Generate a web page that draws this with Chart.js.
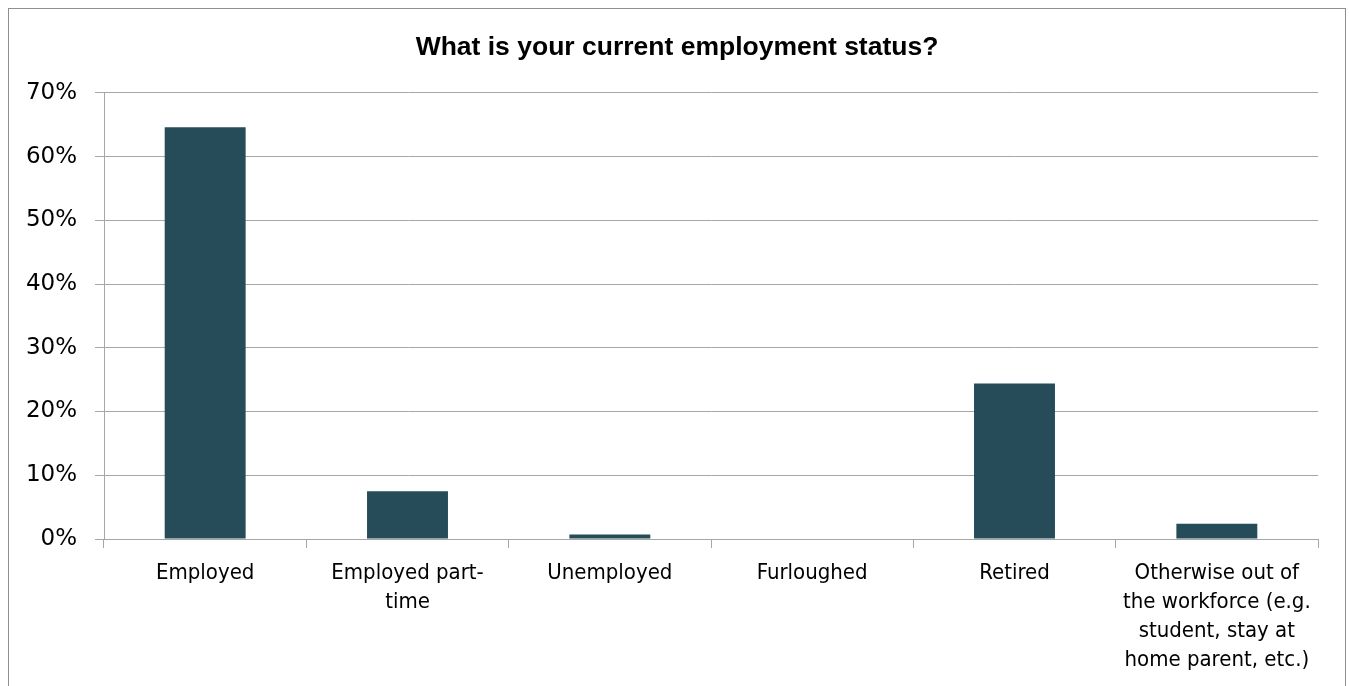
<!DOCTYPE html>
<html>
<head>
<meta charset="utf-8">
<script src="https://cdn.jsdelivr.net/npm/chart.js@4"></script>
<style>
  body { margin: 0; background: #fff; overflow: hidden; }
  #box {
    position: absolute; left: 8px; top: 8px;
    width: 1338px; height: 700px;
    border: 1px solid #8f8f8f; box-sizing: border-box;
  }
  #chart { display: block; }
</style>
</head>
<body>
<div id="box"><canvas id="chart" width="1336" height="698"></canvas></div>
<script>
// survey answers (share of respondents, %)
const categories = [
  'Employed',
  ['Employed part-', 'time'],
  'Unemployed',
  'Furloughed',
  'Retired',
  ['Otherwise out of', 'the workforce (e.g.', 'student, stay at', 'home parent, etc.)']
];
const shares = [64.6, 7.5, 0.7, 0, 24.4, 2.4];
const yTicks = [0, 10, 20, 30, 40, 50, 60, 70];

const ctx = document.getElementById('chart').getContext('2d');
new Chart(ctx, {
  type: 'bar',
  data: {
    labels: categories,
    datasets: [{
      data: shares,
      backgroundColor: '#264c59',
      borderWidth: 0,
      barPercentage: 0.4,
      categoryPercentage: 1
    }]
  },
  options: {
    responsive: false,
    animation: false,
    layout: { padding: 0 },
    plugins: {
      legend: { display: false },
      tooltip: { enabled: false },
      title: {
        display: true,
        text: 'What is your current employment status?',
        color: '#000',
        font: { family: 'Liberation Sans', size: 26.5, weight: 'bold', lineHeight: 1.2 },
        padding: { top: 23, bottom: 29 }
      }
    },
    scales: {
      x: {
        grid: { drawOnChartArea: false, drawTicks: true, tickLength: 9, color: '#a6a6a6', offset: true },
        border: { color: '#a6a6a6', width: 1 },
        ticks: {
          color: '#000', maxRotation: 0, autoSkip: false, padding: 11,
          font: { family: 'DejaVu Sans Condensed', size: 22, lineHeight: '29px' }
        },
        afterFit: s => { s.height = 168; }
      },
      y: {
        min: 0, max: 70,
        afterBuildTicks: s => { s.ticks = yTicks.map(v => ({ value: v })); },
        grid: { color: '#a6a6a6', tickLength: 9 },
        border: { color: '#a6a6a6', width: 1 },
        ticks: {
          color: '#000', padding: 18,
          font: { family: 'DejaVu Sans', size: 23 },
          callback: v => v + '%'
        },
        afterFit: s => { s.width = 95; }
      },
      // empty right-hand gutter so the title stays centred on the whole box
      gutter: {
        axis: 'y', position: 'right', display: true,
        grid: { display: false }, border: { display: false },
        ticks: { display: false },
        afterFit: s => { s.width = 27; }
      }
    }
  }
});
</script>
</body>
</html>
